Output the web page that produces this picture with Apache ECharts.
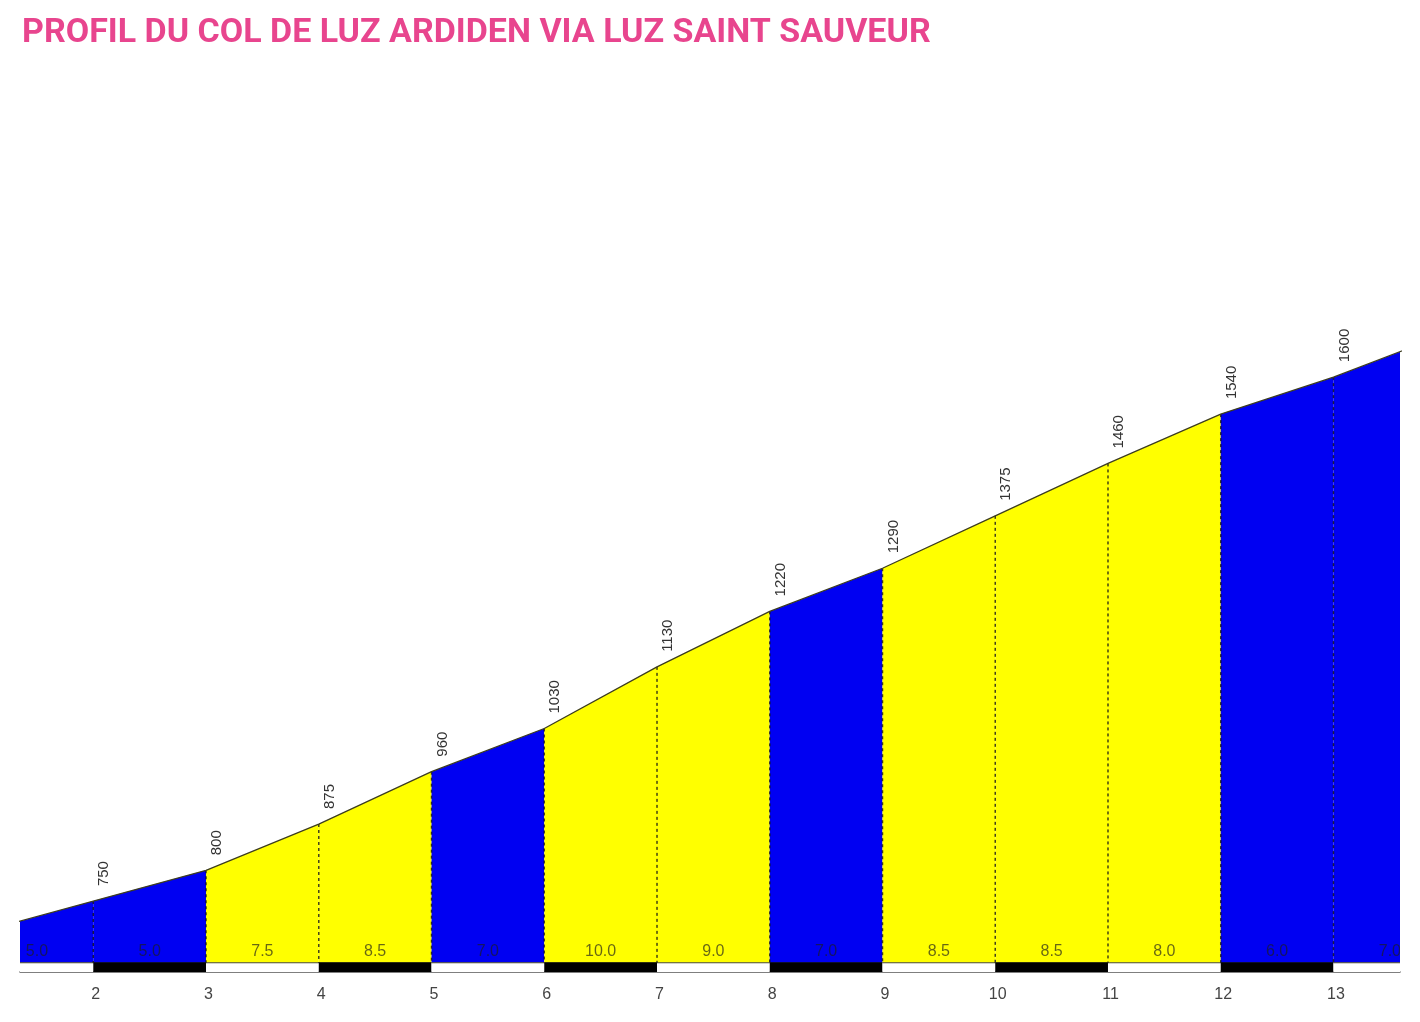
<html lang="fr">
<head>
  <meta charset="UTF-8">
  <title>Profil du col de Luz Ardiden</title>
  <style>
    html, body { margin: 0; padding: 0; background: #fff; }
    #chart { width: 1420px; height: 1022px; }
  </style>
</head>
<body>
  <div id="chart"></div>
  <script src="https://cdn.jsdelivr.net/npm/echarts@6.0.0/dist/echarts.min.js"></script>
  <script>
    // km markers and altitude (m) at each marker
    const kmMarks = [1, 2, 3, 4, 5, 6, 7, 8, 9, 10, 11, 12, 13, 14]
    const altitudes = [700, 750, 800, 875, 960, 1030, 1130, 1220, 1290, 1375, 1460, 1540, 1600, 1670]
    // average gradient (%) of each km segment
    const gradients = [5.0, 5.0, 7.5, 8.5, 7.0, 10.0, 9.0, 7.0, 8.5, 8.5, 8.0, 6.0, 7.0]
    const kmLabels = [2, 3, 4, 5, 6, 7, 8, 9, 10, 11, 12, 13]

    const yMin = 635
    const baseAlt = 650
    const BLUE = '#0000f2'
    const YELLOW = '#ffff00'

    const segments = gradients.map((g, i) => [kmMarks[i], altitudes[i], kmMarks[i + 1], altitudes[i + 1], g])
    const points = kmMarks.map((k, i) => [k, altitudes[i]])

    function fillColor(g) {
      return g > 7 ? YELLOW : BLUE
    }

    const chart = echarts.init(document.getElementById('chart'))
    const option = {
      animation: false,
      title: {
        text: 'PROFIL DU COL DE LUZ ARDIDEN VIA LUZ SAINT SAUVEUR',
        left: 17,
        top: 11,
        textStyle: {
          fontFamily: 'Roboto',
          fontWeight: 'bold',
          fontSize: 34,
          color: '#e8458e'
        }
      },
      grid: { left: 20, right: 20, top: 72, bottom: 50 },
      xAxis: {
        type: 'value',
        min: 1.35,
        max: 13.59,
        splitLine: { show: false },
        axisLine: { show: true, onZero: false, lineStyle: { color: '#555', width: 1.5 } },
        axisTick: { show: false },
        axisLabel: {
          customValues: kmLabels,
          color: '#444',
          fontFamily: 'Liberation Sans',
          fontSize: 16,
          margin: 15,
          padding: [0, 0, 0, 5]
        }
      },
      yAxis: {
        type: 'value',
        min: yMin,
        max: 2095,
        show: false
      },
      series: [
        {
          name: 'fills',
          type: 'custom',
          clip: true,
          data: segments,
          renderItem: (params, api) => {
            const a = api.coord([api.value(0), api.value(1)])
            const b = api.coord([api.value(2), api.value(3)])
            const a0 = api.coord([api.value(0), baseAlt])
            const b0 = api.coord([api.value(2), baseAlt])
            return {
              type: 'polygon',
              shape: { points: [a0, a, b, b0] },
              style: { fill: fillColor(api.value(4)), stroke: null }
            }
          }
        },
        {
          name: 'strip',
          type: 'custom',
          clip: true,
          data: segments,
          renderItem: (params, api) => {
            const a = api.coord([api.value(0), baseAlt])
            const b = api.coord([api.value(2), yMin])
            const black = api.value(0) % 2 === 0
            return {
              type: 'group',
              children: [
                {
                  type: 'rect',
                  shape: { x: a[0], y: a[1], width: b[0] - a[0], height: b[1] - a[1] },
                  style: { fill: black ? '#000' : '#fff' }
                },
                {
                  type: 'line',
                  shape: { x1: a[0], y1: a[1], x2: b[0], y2: a[1] },
                  style: { stroke: black ? '#000' : '#4a4a2a', lineWidth: 1 }
                }
              ]
            }
          }
        },
        {
          name: 'dividers',
          type: 'custom',
          clip: true,
          data: points,
          renderItem: (params, api) => {
            const top = api.coord([api.value(0), api.value(1)])
            const bot = api.coord([api.value(0), baseAlt])
            return {
              type: 'line',
              shape: { x1: top[0], y1: top[1], x2: bot[0], y2: bot[1] },
              style: { stroke: 'rgba(20,20,20,0.8)', lineWidth: 1.5, lineDash: [3, 3] }
            }
          }
        },
        {
          name: 'profile',
          type: 'line',
          data: points,
          symbol: 'none',
          silent: true,
          lineStyle: { color: '#3d3d20', width: 1.3 }
        },
        {
          name: 'altitude labels',
          type: 'custom',
          clip: true,
          data: points,
          renderItem: (params, api) => {
            const p = api.coord([api.value(0), api.value(1)])
            return {
              type: 'text',
              x: p[0] + 11,
              y: p[1] - 15,
              rotation: Math.PI / 2,
              style: {
                text: String(api.value(1)),
                x: 0,
                y: 0,
                align: 'left',
                verticalAlign: 'middle',
                fill: '#333',
                fontFamily: 'Liberation Sans',
                fontSize: 15
              }
            }
          }
        },
        {
          name: 'gradient labels',
          type: 'custom',
          clip: true,
          data: segments,
          renderItem: (params, api) => {
            const p = api.coord([(api.value(0) + api.value(2)) / 2, baseAlt])
            return {
              type: 'text',
              x: p[0],
              y: p[1] - 11,
              style: {
                text: api.value(4).toFixed(1),
                align: 'center',
                verticalAlign: 'middle',
                fill: 'rgba(30,30,30,0.68)',
                fontFamily: 'Liberation Sans',
                fontSize: 16
              }
            }
          }
        }
      ]
    }
    chart.setOption(option)
  </script>
</body>
</html>
